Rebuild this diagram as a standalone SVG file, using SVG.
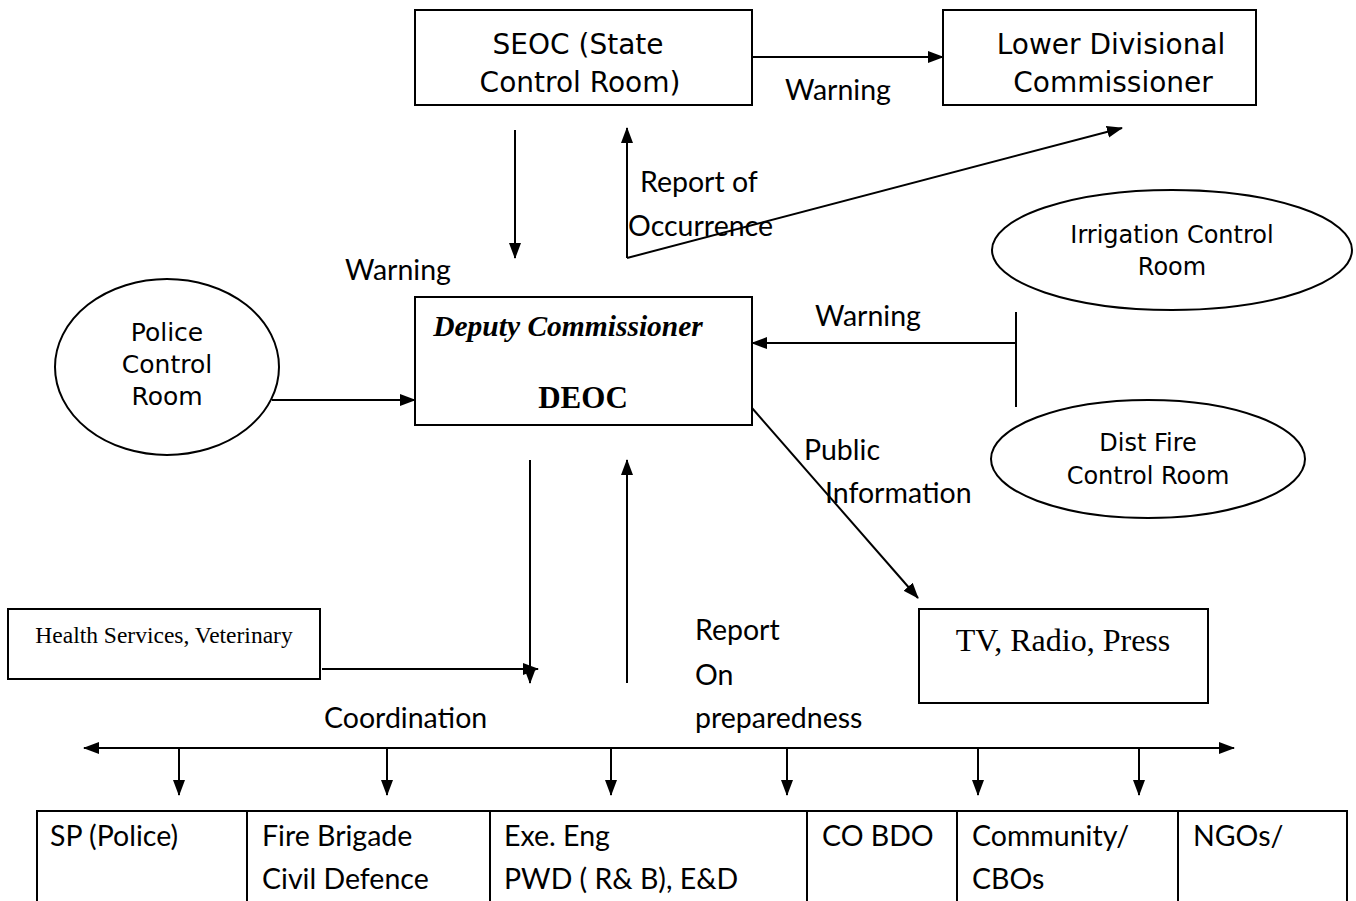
<svg xmlns="http://www.w3.org/2000/svg" width="1356" height="901" viewBox="0 0 1356 901">
<style>
.box{fill:#fff;stroke:#000;stroke-width:2}
.ln{fill:none;stroke:#000;stroke-width:2}
.g{font-family:"DejaVu Sans",sans-serif;fill:#000;text-anchor:middle}
.c{font-family:Lato,"Liberation Sans",sans-serif;font-size:28.5px;fill:#000}
.t{font-family:"Liberation Serif",serif;fill:#000}
</style>
<defs>
<marker id="ah" markerUnits="userSpaceOnUse" markerWidth="16" markerHeight="14" refX="15" refY="7" orient="auto">
<path d="M0,1 L16,7 L0,13 z" fill="#000"/>
</marker>
</defs>
<rect width="1356" height="901" fill="#fff"/>

<g id="seoc">
<rect class="box" x="415" y="10" width="337" height="95"/>
<text class="g" font-size="28" x="578" y="54">SEOC (State</text>
<text class="g" font-size="28" x="580" y="92">Control Room)</text>
</g>
<g id="ldc">
<rect class="box" x="943" y="10" width="313" height="95"/>
<text class="g" font-size="28" x="1111" y="54">Lower Divisional</text>
<text class="g" font-size="28" x="1113" y="92">Commissioner</text>
</g>
<g id="deoc">
<rect class="box" x="415" y="297" width="337" height="128"/>
<text class="t" font-size="29.5" font-weight="bold" font-style="italic" x="568" y="336" text-anchor="middle">Deputy Commissioner</text>
<text class="t" font-size="31" font-weight="bold" x="583" y="408" text-anchor="middle">DEOC</text>
</g>
<g id="police">
<ellipse class="box" cx="167" cy="367" rx="112" ry="88"/>
<text class="g" font-size="25" x="167" y="341">Police</text>
<text class="g" font-size="25" x="167" y="373">Control</text>
<text class="g" font-size="25" x="167" y="405">Room</text>
</g>
<g id="irrigation">
<ellipse class="box" cx="1172" cy="250" rx="180" ry="60"/>
<text class="g" font-size="24" x="1172" y="243">Irrigation Control</text>
<text class="g" font-size="24" x="1172" y="275">Room</text>
</g>
<g id="fire">
<ellipse class="box" cx="1148" cy="459" rx="157" ry="59"/>
<text class="g" font-size="24" x="1148" y="451">Dist Fire</text>
<text class="g" font-size="24" x="1148" y="484">Control Room</text>
</g>
<g id="health">
<rect class="box" x="8" y="609" width="312" height="70"/>
<text class="t" font-size="23.5" x="164" y="643" text-anchor="middle">Health Services, Veterinary</text>
</g>
<g id="media">
<rect class="box" x="919" y="609" width="289" height="94"/>
<text class="t" font-size="32" x="1063" y="651" text-anchor="middle">TV, Radio, Press</text>
</g>
<g id="agencies">
<rect class="box" x="37" y="811" width="1310" height="100"/>
<path class="ln" d="M247,811V901M490,811V901M807,811V901M957,811V901M1178,811V901"/>
<text class="c" x="50" y="846">SP (Police)</text>
<text class="c" x="262" y="846">Fire Brigade</text>
<text class="c" x="262" y="889">Civil Defence</text>
<text class="c" x="504" y="846">Exe. Eng</text>
<text class="c" x="504" y="889">PWD ( R&amp; B), E&amp;D</text>
<text class="c" x="822" y="846">CO BDO</text>
<text class="c" x="972" y="846">Community/</text>
<text class="c" x="972" y="889">CBOs</text>
<text class="c" x="1193" y="846">NGOs/</text>
</g>

<g id="connectors">
<line class="ln" x1="752" y1="57" x2="943" y2="57" marker-end="url(#ah)"/>
<line class="ln" x1="515" y1="130" x2="515" y2="258" marker-end="url(#ah)"/>
<line class="ln" x1="627" y1="258" x2="627" y2="128" marker-end="url(#ah)"/>
<line class="ln" x1="627" y1="258" x2="1122" y2="128" marker-end="url(#ah)"/>
<line class="ln" x1="272" y1="400" x2="415" y2="400" marker-end="url(#ah)"/>
<line class="ln" x1="1016" y1="312" x2="1016" y2="407"/>
<line class="ln" x1="1016" y1="343" x2="752" y2="343" marker-end="url(#ah)"/>
<line class="ln" x1="752" y1="408" x2="918" y2="598" marker-end="url(#ah)"/>
<line class="ln" x1="530" y1="460" x2="530" y2="683" marker-end="url(#ah)"/>
<line class="ln" x1="627" y1="683" x2="627" y2="460" marker-end="url(#ah)"/>
<line class="ln" x1="322" y1="669" x2="538" y2="669" marker-end="url(#ah)"/>
<line class="ln" x1="660" y1="748" x2="84" y2="748" marker-end="url(#ah)"/>
<line class="ln" x1="660" y1="748" x2="1234" y2="748" marker-end="url(#ah)"/>
<line class="ln" x1="179" y1="748" x2="179" y2="795" marker-end="url(#ah)"/>
<line class="ln" x1="387" y1="748" x2="387" y2="795" marker-end="url(#ah)"/>
<line class="ln" x1="611" y1="748" x2="611" y2="795" marker-end="url(#ah)"/>
<line class="ln" x1="787" y1="748" x2="787" y2="795" marker-end="url(#ah)"/>
<line class="ln" x1="978" y1="748" x2="978" y2="795" marker-end="url(#ah)"/>
<line class="ln" x1="1139" y1="748" x2="1139" y2="795" marker-end="url(#ah)"/>
<text class="c" x="785" y="100">Warning</text>
<text class="c" x="345" y="280">Warning</text>
<text class="c" x="640" y="192">Report of</text>
<text class="c" x="628" y="236">Occurrence</text>
<text class="c" x="815" y="326">Warning</text>
<text class="c" x="804" y="460">Public</text>
<text class="c" x="825" y="503">Information</text>
<text class="c" x="695" y="640">Report</text>
<text class="c" x="695" y="685">On</text>
<text class="c" x="695" y="728">preparedness</text>
<text class="c" x="324" y="728">Coordination</text>
</g>
</svg>
